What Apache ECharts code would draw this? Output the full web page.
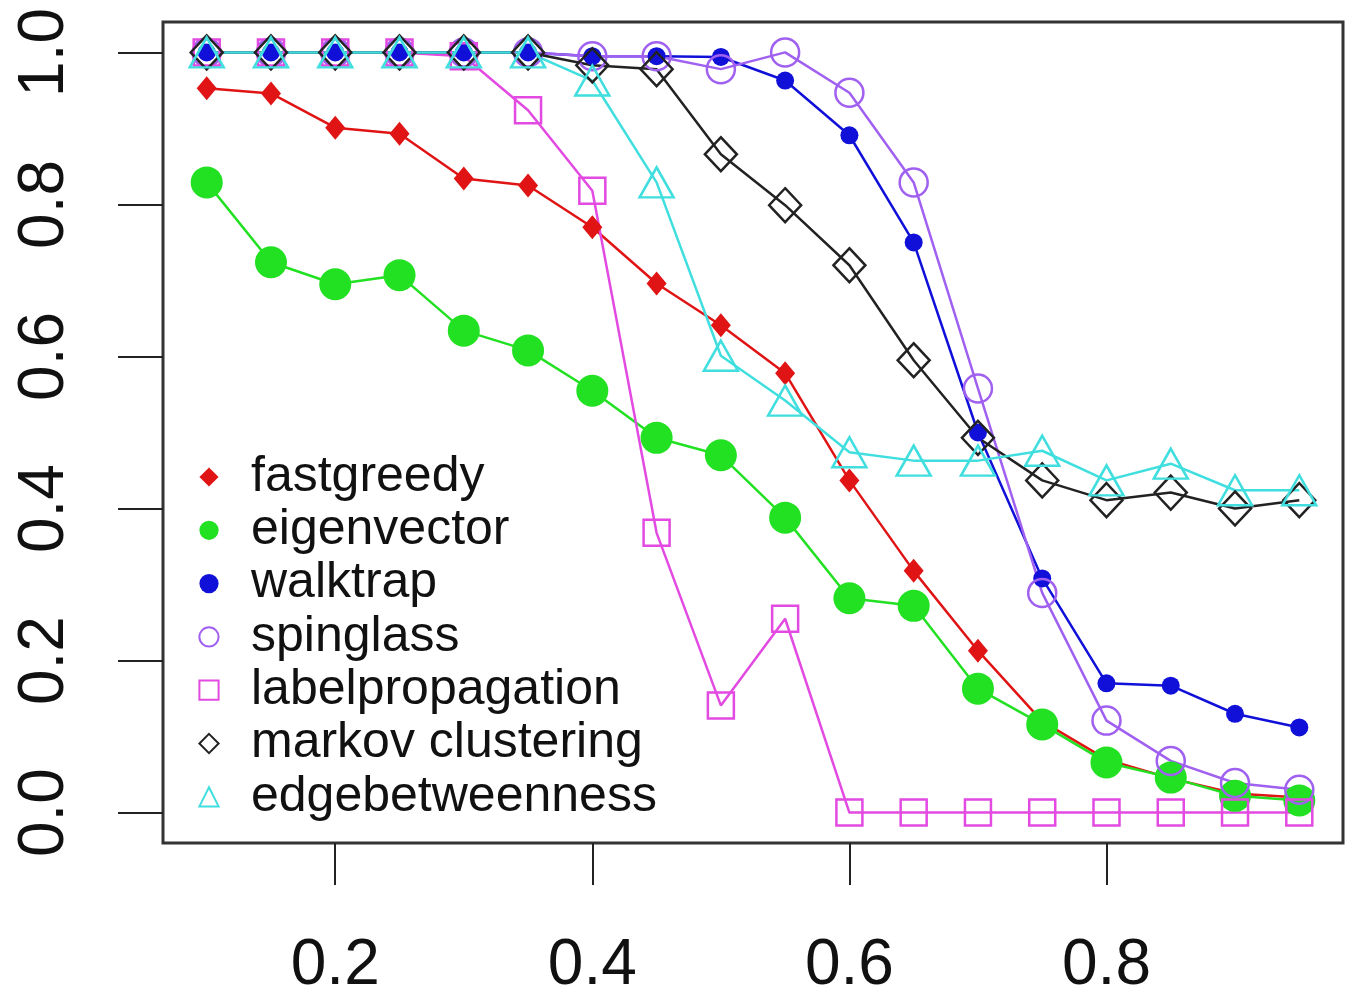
<!DOCTYPE html>
<html>
<head>
<meta charset="utf-8">
<script src="https://cdn.jsdelivr.net/npm/echarts@6/dist/echarts.min.js"></script>
<style>
html,body{margin:0;padding:0;background:#fff;}
#chart{width:1346px;height:994px;}
</style>
</head>
<body>
<div id="chart"></div>
<script>
var xValues = [0.10,0.15,0.20,0.25,0.30,0.35,0.40,0.45,0.50,0.55,0.60,0.65,0.70,0.75,0.80,0.85,0.90,0.95];
var xTicks = [0.2,0.4,0.6,0.8];
var yTicks = [0.0,0.2,0.4,0.6,0.8,1.0];

var seriesNames = ['fastgreedy','eigenvector','walktrap','spinglass','labelpropagation','markov clustering','edgebetweenness'];
var fastgreedy      = [0.953,0.946,0.901,0.893,0.834,0.825,0.770,0.696,0.641,0.578,0.437,0.318,0.213,0.120,0.070,0.045,0.025,0.020];
var eigenvector     = [0.829,0.724,0.695,0.707,0.634,0.608,0.555,0.493,0.470,0.388,0.282,0.272,0.163,0.116,0.066,0.046,0.022,0.016];
var walktrap        = [1.000,1.000,1.000,1.000,1.000,1.000,0.995,0.995,0.994,0.963,0.891,0.750,0.500,0.308,0.170,0.167,0.130,0.112];
var spinglass       = [1.000,1.000,1.000,1.000,1.000,1.000,0.995,0.995,0.978,1.000,0.947,0.829,0.558,0.289,0.121,0.068,0.039,0.030];
var labelpropagation= [1.000,1.000,1.000,1.000,0.995,0.924,0.818,0.368,0.141,0.255,0.000,0.000,0.000,0.000,0.000,0.000,0.000,0.000];
var markov          = [1.000,1.000,1.000,1.000,1.000,1.000,0.983,0.978,0.866,0.799,0.720,0.595,0.493,0.437,0.411,0.421,0.400,0.411];
var edgebetweenness = [1.000,1.000,1.000,1.000,1.000,1.000,0.963,0.829,0.601,0.542,0.474,0.463,0.463,0.476,0.437,0.459,0.424,0.424];

var allValues = [fastgreedy,eigenvector,walktrap,spinglass,labelpropagation,markov,edgebetweenness];
var colors = ['#e01414','#22e022','#1010d8','#a060f0','#e24ae2','#222222','#40dede'];
var symbols = ['diamond','circle','circle','circle','rect','diamond','triangle'];
var symbolSizes = [[20,24],32,18,28,26,[32,34],[34,30]];
var filled = [true,true,true,false,false,false,false];

function pairs(vals){ return vals.map(function(v,i){ return [xValues[i], v]; }); }

var series = seriesNames.map(function(name, k){
  var c = colors[k];
  var itemStyle = filled[k]
    ? {color: c}
    : {color: 'rgba(255,255,255,0)', borderColor: c, borderWidth: 2.5};
  return {
    name: name,
    type: 'line',
    data: pairs(allValues[k]),
    symbol: symbols[k],
    symbolSize: symbolSizes[k],
    showAllSymbol: true,
    itemStyle: itemStyle,
    lineStyle: {color: c, width: 2.5},
    emphasis: {disabled: true},
    animation: false
  };
});

var chart = echarts.init(document.getElementById('chart'), null, {renderer: 'canvas'});
chart.setOption({
  backgroundColor: '#ffffff',
  animation: false,
  grid: {
    left: 163, top: 22, width: 1180, height: 821,
    containLabel: false,
    outerBoundsMode: 'none',
    show: true, borderColor: '#333', borderWidth: 3, backgroundColor: 'transparent'
  },
  xAxis: {
    type: 'value', min: 0.066, max: 0.984,
    axisLine: {show: false, onZero: false},
    splitLine: {show: false},
    axisTick: {show: true, inside: false, length: 42, customValues: xTicks, lineStyle: {color: '#222', width: 2}},
    axisLabel: {show: true, customValues: xTicks, margin: 91, fontSize: 64, color: '#111',
      fontFamily: 'Liberation Sans, Arial, sans-serif', formatter: function(v){ return v.toFixed(1); }}
  },
  yAxis: {
    type: 'value', min: -0.04, max: 1.04,
    axisLine: {show: false, onZero: false},
    splitLine: {show: false},
    axisTick: {show: true, inside: false, length: 45, customValues: yTicks, lineStyle: {color: '#222', width: 2}},
    axisLabel: {show: true, customValues: yTicks, rotate: 90, margin: 86, fontSize: 64, color: '#111',
      fontFamily: 'Liberation Sans, Arial, sans-serif', formatter: function(v){ return v.toFixed(1); }}
  },
  legend: {
    orient: 'vertical',
    left: 171, top: 452,
    padding: 0,
    itemGap: 3.3,
    itemWidth: 74,
    itemHeight: 24,
    lineStyle: {opacity: 0},
    selectedMode: false,
    textStyle: {fontSize: 50, lineHeight: 50, color: '#111', fontFamily: 'Liberation Sans, Arial, sans-serif'},
    data: seriesNames
  },
  series: series
});
</script>
</body>
</html>
